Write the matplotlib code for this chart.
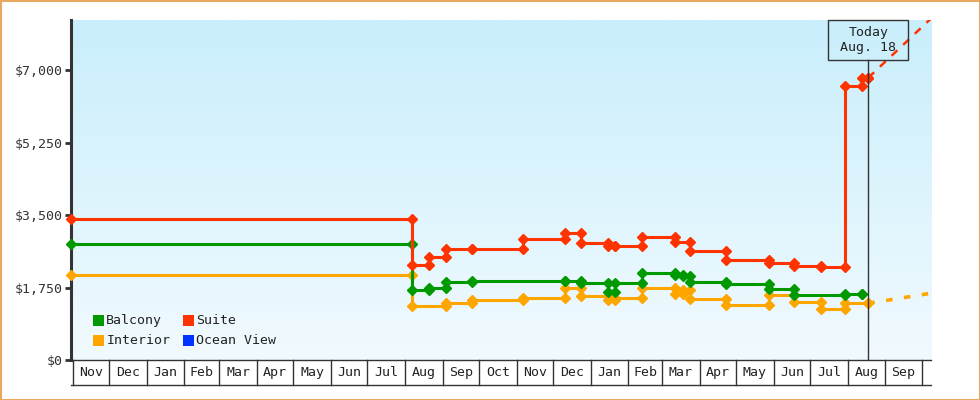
import matplotlib
matplotlib.use("Agg")
import matplotlib.pyplot as plt
import matplotlib.dates as mdates
from matplotlib.colors import LinearSegmentedColormap
from matplotlib.patches import Rectangle
from matplotlib.transforms import blended_transform_factory
import numpy as np
import pandas as pd

# ---------------- data ----------------
suite_dates = ["2023-10-31", "2024-08-07", "2024-08-21", "2024-09-04", "2024-09-25",
               "2024-11-06", "2024-12-11", "2024-12-24", "2025-01-15", "2025-01-21",
               "2025-02-12", "2025-03-12", "2025-03-24", "2025-04-23", "2025-05-28",
               "2025-06-18", "2025-07-10", "2025-07-30", "2025-08-13", "2025-08-18"]
suite_prices = [3400, 2300, 2500, 2680, 2690,
                2920, 3060, 2820, 2760, 2760,
                2970, 2860, 2640, 2420, 2340,
                2280, 2250, 6610, 6820, 6820]

balcony_dates = ["2023-10-31", "2024-08-07", "2024-08-21", "2024-09-04", "2024-09-25",
                 "2024-12-11", "2024-12-24", "2025-01-15", "2025-01-21", "2025-02-12",
                 "2025-03-12", "2025-03-18", "2025-03-24", "2025-04-23", "2025-05-28",
                 "2025-06-18", "2025-07-30", "2025-08-13"]
balcony_prices = [2800, 1690, 1730, 1890, 1900,
                  1910, 1850, 1650, 1850, 2110,
                  2060, 2020, 1890, 1840, 1710,
                  1570, 1600, 1600]

interior_dates = ["2023-10-31", "2024-08-07", "2024-09-04", "2024-09-25", "2024-11-06",
                  "2024-12-11", "2024-12-24", "2025-01-15", "2025-01-21", "2025-02-12",
                  "2025-03-12", "2025-03-18", "2025-03-24", "2025-04-23", "2025-05-28",
                  "2025-06-18", "2025-07-10", "2025-07-30", "2025-08-18"]
interior_prices = [2050, 1310, 1370, 1450, 1490,
                   1730, 1550, 1450, 1500, 1750,
                   1600, 1700, 1470, 1340, 1570,
                   1390, 1230, 1370, 1370]

# projections from "today"
suite_proj_dates = ["2025-08-18", "2025-10-09"]
suite_proj_prices = [6820, 8260]
interior_proj_dates = ["2025-08-18", "2025-10-09"]
interior_proj_prices = [1370, 1615]

today = "2025-08-18"
today_label = "Today\nAug. 18"

legend_labels = ["Balcony", "Suite", "Interior", "Ocean View"]
legend_colors = ["#009900", "#FF3300", "#FFA500", "#0033FF"]

month_labels = ["Nov", "Dec", "Jan", "Feb", "Mar", "Apr", "May", "Jun", "Jul", "Aug", "Sep", "Oct",
                "Nov", "Dec", "Jan", "Feb", "Mar", "Apr", "May", "Jun", "Jul", "Aug", "Sep"]
ytick_values = [0, 1750, 3500, 5250, 7000]
ytick_labels = ["$0", "$1,750", "$3,500", "$5,250", "$7,000"]

# ---------------- style ----------------
plt.rcParams['font.family'] = ['DejaVu Sans Mono', 'DejaVu Sans']
FS = 9.5
DARK = "#333333"
GREEN, RED, ORANGE = "#009900", "#FF3300", "#FFA500"

W, H = 980, 400
fig = plt.figure(figsize=(W / 100, H / 100), dpi=100)
ax_left, ax_right, ax_top, ax_bottom = 71, 931, 20, 360
rect = [ax_left / W, 1 - ax_bottom / H, (ax_right - ax_left) / W, (ax_bottom - ax_top) / H]

# gradient background axes
bg = fig.add_axes(rect, zorder=0)
cmap = LinearSegmentedColormap.from_list("bg", ["#F1FAFE", "#C9EEFC"])
bg.imshow(np.linspace(0, 1, 256).reshape(-1, 1), origin="lower", cmap=cmap,
          aspect="auto", extent=[0, 1, 0, 1], interpolation="bilinear")
bg.set_axis_off()

ax = fig.add_axes(rect, zorder=1)
ax.patch.set_alpha(0)

ppd = 1.2128  # px per day
x_left = pd.Timestamp("2023-11-01") - pd.Timedelta(days=1.4)
x_right = x_left + pd.Timedelta(days=(ax_right - ax_left) / ppd)
ax.set_xlim(x_left, x_right)
ax.set_ylim(0, 7000 * (ax_bottom - ax_top) / 289.7)


def draw_series(dates, prices, color, z):
    d = pd.to_datetime(dates)
    ax.plot(d, prices, drawstyle="steps-post", color=color, lw=2.2, zorder=z,
            solid_capstyle="butt")
    mx = [d[0]]
    my = [prices[0]]
    for i in range(1, len(d)):
        mx += [d[i], d[i]]
        my += [prices[i - 1], prices[i]]
    ax.plot(mx, my, ls="none", marker="D", ms=5.0, color=color, mec=color,
            zorder=z + 0.5, clip_on=False)


draw_series(interior_dates, interior_prices, ORANGE, 3)
draw_series(balcony_dates, balcony_prices, GREEN, 4)
draw_series(suite_dates, suite_prices, RED, 5)

ax.plot(pd.to_datetime(suite_proj_dates), suite_proj_prices, color=RED, lw=1.8,
        dashes=(3.2, 3.2), zorder=5)
ax.plot(pd.to_datetime(interior_proj_dates), interior_proj_prices, color=ORANGE, lw=2.6,
        dashes=(1.8, 3.2), zorder=3)

# spines / ticks
for s in ["top", "right"]:
    ax.spines[s].set_visible(False)
ax.spines["left"].set_linewidth(2.2)
ax.spines["left"].set_color(DARK)
ax.spines["bottom"].set_linewidth(1.0)
ax.spines["bottom"].set_color(DARK)
ax.set_yticks(ytick_values)
ax.set_yticklabels(ytick_labels)
ax.tick_params(axis="y", direction="out", length=4.5, width=2, color=DARK,
               labelcolor=DARK, labelsize=FS, pad=1.5)
ax.set_xticks([])

# month cells under the axis
trans = blended_transform_factory(ax.transData, ax.transAxes)
cell_h = 25 / (ax_bottom - ax_top)
month_starts = pd.date_range("2023-11-01", periods=len(month_labels) + 1, freq="MS")
for ms_ in month_starts:
    ax.plot([ms_, ms_], [0, -cell_h], transform=trans, color=DARK, lw=1.0, clip_on=False)
ax.plot([0, 1], [-cell_h, -cell_h], transform=ax.transAxes, color=DARK, lw=1.0, clip_on=False)
for i, lab in enumerate(month_labels):
    mid = month_starts[i] + (month_starts[i + 1] - month_starts[i]) / 2
    ax.text(mid, -cell_h / 2, lab, transform=trans, ha="center", va="center",
            fontsize=FS, color="#222222")

# today marker
t = pd.Timestamp(today)
box_h = 40 / (ax_bottom - ax_top)
ax.plot([t, t], [0, 1 - box_h], transform=trans, color=DARK, lw=1.0, zorder=6)
tn = mdates.date2num(t)
half_w = 40.2 / ppd
ax.add_patch(Rectangle((tn - half_w, 1 - box_h), 2 * half_w, box_h, transform=trans,
                       fill=False, ec=DARK, lw=1.0, clip_on=False, zorder=6))
ax.text(t, 1 - box_h / 2, today_label, transform=trans, ha="center", va="center",
        fontsize=FS, color="#222222", linespacing=1.25, zorder=7)

# legend (manual, two columns)
col_x = [93.3, 183.3]
row_y = [320.5, 340.5]
sq = 11
for k, (lab, col) in enumerate(zip(legend_labels, legend_colors)):
    r, c = divmod(k, 2)
    x0 = col_x[c]
    yc = row_y[r]
    fig.patches.append(Rectangle((x0 / W, 1 - (yc + sq / 2) / H), sq / W, sq / H,
                                 transform=fig.transFigure, fc=col, ec="none", zorder=8))
    fig.text((x0 + sq + 2) / W, 1 - yc / H, lab, ha="left", va="center",
             fontsize=FS, color="#222222", zorder=9)

# figure border
fig.patches.append(Rectangle((0, 0), 1, 1, transform=fig.transFigure, fill=False,
                             ec="#E8A860", lw=2.2, zorder=10))

fig.savefig("out.png", dpi=100)
